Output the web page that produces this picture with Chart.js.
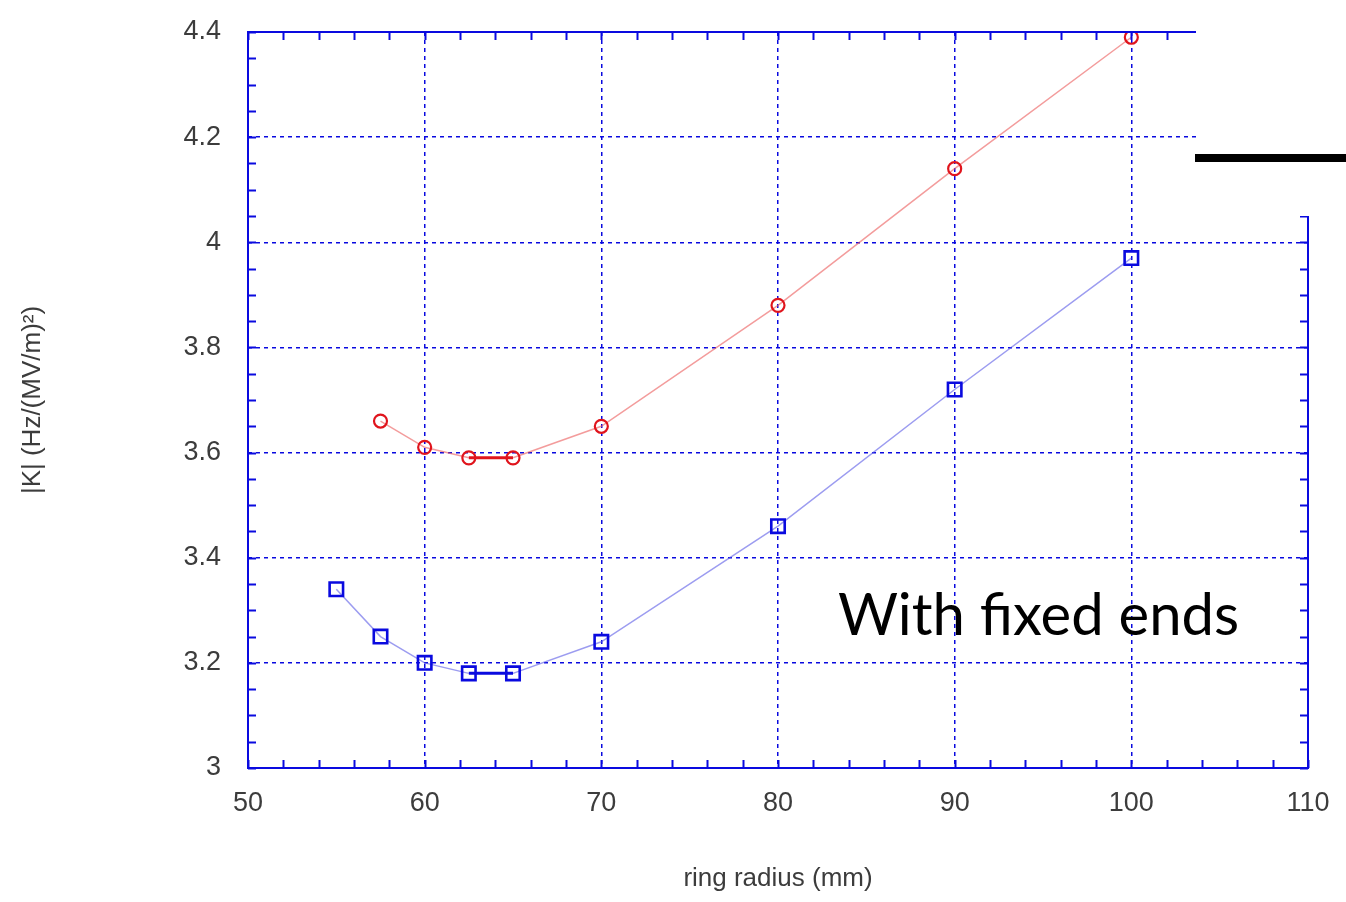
<!DOCTYPE html>
<html>
<head>
<meta charset="utf-8">
<script src="https://cdn.jsdelivr.net/npm/chart.js@4"></script>
<style>
  body { margin: 0; background: #fff; }
  #wrap { position: relative; width: 1346px; height: 902px; }
  #note {
    position: absolute; left: 838px; top: 584px;
    font-family: Lato, "Open Sans", sans-serif; font-size: 58px; color: #000;
    white-space: nowrap; line-height: 1;
  }
</style>
</head>
<body>
<div id="wrap">
  <canvas id="kChart" width="1346" height="902"></canvas>
  <div id="note">With fixed ends</div>
</div>
<script>
// ring radius (mm)
const radiiFree = [57.5, 60, 62.5, 65, 70, 80, 90, 100];
const kFree = [3.66, 3.61, 3.59, 3.59, 3.65, 3.88, 4.14, 4.39];

const radiiFixed = [55, 57.5, 60, 62.5, 65, 70, 80, 90, 100];
const kFixed = [3.34, 3.25, 3.20, 3.18, 3.18, 3.24, 3.46, 3.72, 3.97];

const xTicks = [50, 60, 70, 80, 90, 100, 110];
const yTicks = [3, 3.2, 3.4, 3.6, 3.8, 4, 4.2, 4.4];

const BLUE = "#0a0adf";
const RED = "#e0141c";
const TEXT = "#3c3c3c";
const tickFont = { family: "'Liberation Sans', Arial, sans-serif", size: 27 };

// the 62.5-65 pair is joined by a heavier line
function segStyle(light, solid) {
  return {
    borderColor: ctx => ctx.p0.parsed.x === 62.5 ? solid : light,
    borderWidth: ctx => ctx.p0.parsed.x === 62.5 ? 3 : 1.5
  };
}

function noOverhang(s) {
  s.paddingTop = 0; s.paddingBottom = 0; s.paddingLeft = 0; s.paddingRight = 0;
}

// frame, inner tick marks and the pasted-over corner
const framePlugin = {
  id: "frame",
  afterDatasetsDraw(chart) {
    const { ctx, chartArea: a, scales: { x, y } } = chart;
    ctx.save();
    ctx.strokeStyle = BLUE;
    ctx.lineWidth = 2;
    ctx.strokeRect(a.left, a.top, a.right - a.left, a.bottom - a.top);
    ctx.lineWidth = 2;
    ctx.beginPath();
    for (let v = 50; v <= 110; v += 2) {
      const px = Math.round(x.getPixelForValue(v)) + 0.5;
      ctx.moveTo(px, a.bottom); ctx.lineTo(px, a.bottom - 8);
      ctx.moveTo(px, a.top); ctx.lineTo(px, a.top + 8);
    }
    for (let i = 0; i <= 28; i++) {
      const py = Math.round(y.getPixelForValue(3 + i * 0.05)) + 0.5;
      ctx.moveTo(a.left, py); ctx.lineTo(a.left + 8, py);
      ctx.moveTo(a.right, py); ctx.lineTo(a.right - 8, py);
    }
    ctx.stroke();
    ctx.restore();
  },
  afterDraw(chart) {
    const { ctx } = chart;
    ctx.save();
    ctx.fillStyle = "#fff";
    ctx.fillRect(1196, 0, 150, 216);
    ctx.fillStyle = "#000";
    ctx.fillRect(1195, 154, 151, 8);
    ctx.restore();
  }
};

new Chart(document.getElementById("kChart"), {
  type: "line",
  data: {
    datasets: [
      {
        label: "free",
        data: radiiFree.map((r, i) => ({ x: r, y: kFree[i] })),
        borderColor: "rgba(235,90,90,0.6)",
        borderWidth: 1.5,
        segment: segStyle("rgba(235,90,90,0.6)", RED),
        pointStyle: "circle",
        pointRadius: 6.5,
        pointBorderWidth: 2.2,
        pointBorderColor: RED,
        pointBackgroundColor: "rgba(0,0,0,0)",
        tension: 0
      },
      {
        label: "fixed",
        data: radiiFixed.map((r, i) => ({ x: r, y: kFixed[i] })),
        borderColor: "rgba(90,90,230,0.6)",
        borderWidth: 1.5,
        segment: segStyle("rgba(90,90,230,0.6)", BLUE),
        pointStyle: "rect",
        pointRadius: 9.5,
        pointBorderWidth: 2.6,
        pointBorderColor: BLUE,
        pointBackgroundColor: "rgba(0,0,0,0)",
        tension: 0
      }
    ]
  },
  options: {
    responsive: false,
    animation: false,
    layout: { padding: { top: 32, right: 38, left: 0, bottom: 0 } },
    plugins: { legend: { display: false }, tooltip: { enabled: false } },
    scales: {
      x: {
        type: "linear",
        min: 50, max: 110,
        afterFit: s => { s.height = 134; noOverhang(s); },
        afterBuildTicks: s => { s.ticks = xTicks.map(v => ({ value: v })); },
        ticks: { color: TEXT, font: tickFont, padding: 19, maxRotation: 0 },
        grid: { color: BLUE, lineWidth: 1.5, drawTicks: false },
        border: { display: false, dash: [4, 4] },
        title: {
          display: true, text: "ring radius (mm)", color: TEXT,
          font: { family: tickFont.family, size: 26 },
          padding: { top: 0, bottom: 8 }
        }
      },
      y: {
        type: "linear",
        min: 3, max: 4.4,
        afterFit: s => { s.width = 248; noOverhang(s); },
        afterBuildTicks: s => { s.ticks = yTicks.map(v => ({ value: v })); },
        ticks: { color: TEXT, font: tickFont, padding: 27, callback: v => String(+v.toFixed(1)) },
        grid: { color: BLUE, lineWidth: 1.5, drawTicks: false },
        border: { display: false, dash: [4, 4] },
        title: {
          display: true, text: "|K| (Hz/(MV/m)²)", color: TEXT,
          font: { family: tickFont.family, size: 26 },
          padding: { top: 17, bottom: 0 }
        }
      }
    }
  },
  plugins: [framePlugin]
});
</script>
</body>
</html>
